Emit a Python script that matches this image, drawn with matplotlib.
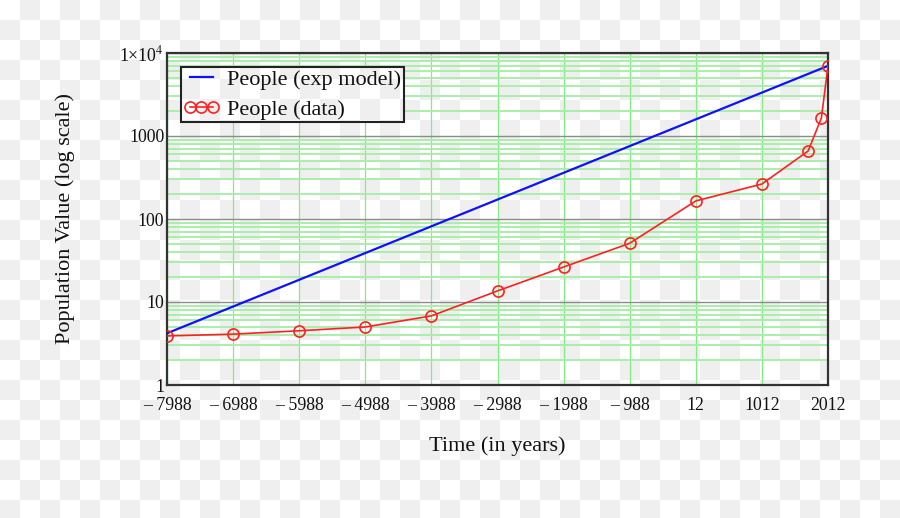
import numpy as np
import matplotlib
matplotlib.use("Agg")
import matplotlib.pyplot as plt
from matplotlib.ticker import FixedLocator, LogLocator, NullFormatter

# ---------------- data ----------------
model_years = [-7988, 2012]
model_values = [4.2, 7000]

data_years = [-7988, -6988, -5988, -4988, -3988, -2988, -1988, -988, 12, 1012, 1712, 1912, 2012]
data_values = [3.9, 4.1, 4.5, 5.0, 6.8, 13.6, 26.4, 51, 165, 264, 660, 1650, 7000]

x_ticks = [-7988, -6988, -5988, -4988, -3988, -2988, -1988, -988, 12, 1012, 2012]
x_tick_labels = ["\u2013 7988", "\u2013 6988", "\u2013 5988", "\u2013 4988", "\u2013 3988",
                 "\u2013 2988", "\u2013 1988", "\u2013 988", "12", "1012", "2012"]
y_ticks = [1, 10, 100, 1000, 10000]
y_tick_labels = ["1", "10", "100", "1000", "1\u00d710$^{4}$"]

# ---------------- style ----------------
plt.rcParams["font.family"] = ["Liberation Serif", "DejaVu Serif"]
plt.rcParams["mathtext.fontset"] = "stix"

W, H = 900, 518
fig = plt.figure(figsize=(W / 100, H / 100), dpi=100)

# transparent-look checkerboard background
sq = 20
yy, xx = np.mgrid[0:H, 0:W]
checker = ((yy // sq + xx // sq) % 2).astype(float)
bg = np.where(checker[..., None] == 1, 239 / 255, 1.0) * np.ones((H, W, 3))
fig.figimage(bg, xo=0, yo=0, origin="upper", zorder=-10)

ax = fig.add_axes([167 / W, 1 - 385 / H, (828 - 167) / W, (385 - 53) / H])
ax.set_facecolor("none")
ax.set_yscale("log")
ax.set_xlim(-7988, 2012)
ax.set_ylim(1, 10000)

# grids
ax.set_axisbelow(True)
ax.yaxis.set_minor_locator(LogLocator(base=10, subs=np.arange(2, 10)))
ax.yaxis.set_minor_formatter(NullFormatter())
ax.grid(which="minor", axis="y", color="#a4eea4", linewidth=1.3)
ax.grid(which="major", axis="y", color="#8c8c8c", linewidth=1.0)
ax.grid(which="major", axis="x", color="#80ee80", linewidth=0.9)

ax.xaxis.set_major_locator(FixedLocator(x_ticks))
ax.set_xticklabels(x_tick_labels)
ax.yaxis.set_major_locator(FixedLocator(y_ticks))
ax.set_yticklabels(y_tick_labels)
ax.tick_params(axis="both", which="both", length=0, labelsize=12.8, colors="#111111")
ax.tick_params(axis="x", pad=9)
ax.tick_params(axis="y", pad=2)

for s in ax.spines.values():
    s.set_linewidth(1.6)
    s.set_color("#333333")

l1, = ax.plot(model_years, model_values, color="#1010ff", linewidth=1.6, zorder=3,
              label="People (exp model)")
l2, = ax.plot(data_years, data_values, color="#ff2020", linewidth=1.2, marker="o",
              markersize=8, markerfacecolor="none", markeredgecolor="#ff2020",
              markeredgewidth=1.2, zorder=4, label="People (data)")

ax.set_xlabel("Time (in years)", fontsize=16, labelpad=16, color="#111111")
ax.set_ylabel("Population Value (log scale)", fontsize=16, labelpad=32, color="#111111")

leg = fig.legend(handles=[l1, l2], loc="upper left",
                 bbox_to_anchor=(181 / W, 1 - 67 / H), fontsize=16,
                 numpoints=3, handlelength=1.6, handletextpad=0.35,
                 borderpad=0.12, labelspacing=0.4, borderaxespad=0,
                 fancybox=False, framealpha=1)
leg.get_frame().set_facecolor("none")
leg.get_frame().set_edgecolor("#222222")
leg.get_frame().set_linewidth(1.5)
for t in leg.get_texts():
    t.set_color("#111111")

# checkerboard patch behind legend (hides the grid like the reference)
fig.canvas.draw()
bb = leg.get_window_extent()
ov = fig.add_axes([bb.x0 / W, bb.y0 / H, bb.width / W, bb.height / H], zorder=1)
ov.imshow(bg, extent=(0, W, 0, H), origin="upper", interpolation="nearest", aspect="auto")
ov.set_xlim(bb.x0, bb.x1)
ov.set_ylim(bb.y0, bb.y1)
ov.axis("off")
leg.set_zorder(5)

fig.savefig("out.png", dpi=100)
